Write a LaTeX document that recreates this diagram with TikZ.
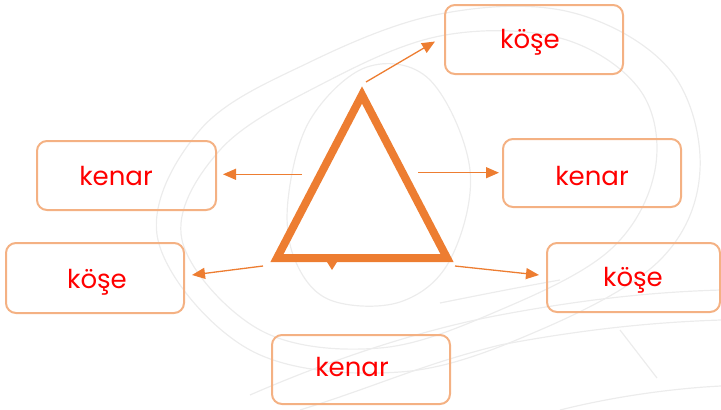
\documentclass[tikz,border=0pt]{standalone}
\usepackage{fontspec}
\setmainfont{Poppins}
\usetikzlibrary{arrows.meta}
\definecolor{org}{HTML}{ED7D31}
\definecolor{lorg}{HTML}{F4B183}
\definecolor{txt}{HTML}{FF0000}
\definecolor{bgl}{HTML}{ECECEC}
\tikzset{
  box/.style={draw=lorg, line width=2pt, rounded corners=10pt, inner sep=0pt},
  lbl/.style={text=txt, font=\fontsize{26}{30}\selectfont, anchor=base, inner sep=0pt},
  arr/.style={draw=org, line width=1.3pt, -{Triangle[length=13pt,width=11pt]}},
  tri/.style={draw=org, line width=8pt, miter limit=20},
  bg/.style={draw=bgl, line width=1.2pt}
}
\begin{document}
\begin{tikzpicture}[x=1pt,y=-1pt]
\useasboundingbox (0,0) rectangle (721,410);
% faint background curves
\draw[bg] plot[smooth cycle, tension=0.6] coordinates {(158,240) (200,130) (310,62) (440,14) (570,12) (670,70) (700,170) (660,260) (540,330) (400,372) (250,350)};
\draw[bg] plot[smooth cycle, tension=0.6] coordinates {(182,240) (220,150) (320,85) (440,36) (560,38) (640,90) (655,170) (610,250) (500,310) (380,348) (260,330)};
\draw[bg] plot[smooth cycle, tension=0.6] coordinates {(288,200) (310,120) (367,67) (430,80) (470,170) (450,260) (400,302) (330,300) (295,260)};
\draw[bg] (250,395) .. controls (330,360) and (420,330) .. (500,315) .. controls (580,300) and (650,292) .. (721,290);
\draw[bg] (300,410) .. controls (380,385) and (420,365) .. (500,345) .. controls (590,328) and (660,322) .. (721,320);
\draw[bg] (440,303) .. controls (480,295) and (520,287) .. (560,280);
\draw[bg] (560,410) .. controls (620,395) and (680,388) .. (721,386);
\draw[bg] (620,330) -- (657,378);
% boxes
\node[box, minimum width=178pt, minimum height=69pt] (bTK) at (534,39.5) {};
\node[box, minimum width=178pt, minimum height=68pt] (bRK) at (592,173) {};
\node[box, minimum width=173pt, minimum height=69pt] (bRV) at (633.5,277.5) {};
\node[box, minimum width=179pt, minimum height=69pt] (bLK) at (126.5,175.5) {};
\node[box, minimum width=178pt, minimum height=70pt] (bLV) at (95,278) {};
\node[box, minimum width=178pt, minimum height=69pt] (bBK) at (361,369.5) {};
% labels
\node[lbl] (tTK) at (530,48) {köşe};
\node[lbl] (tRK) at (592,185) {kenar};
\node[lbl] (tRV) at (633,286) {köşe};
\node[lbl] (tLK) at (116,185) {kenar};
\node[lbl] (tLV) at (97,288) {köşe};
\node[lbl] (tBK) at (352,376) {kenar};
% triangle
\coordinate (A) at (362,95);
\coordinate (B) at (277,258);
\coordinate (C) at (447,258);
\draw[tri] (A) -- (B) -- (C) -- cycle;
% arrow endpoints
\coordinate (s1) at (366,82);   \coordinate (e1) at (435,41.5);
\coordinate (s2) at (418,172.7); \coordinate (e2) at (499,172.7);
\coordinate (s3) at (455,266);  \coordinate (e3) at (539,275);
\coordinate (s4) at (302,174.3); \coordinate (e4) at (223,174.3);
\coordinate (s5) at (263,266);  \coordinate (e5) at (192,275);
\draw[arr] (s1) -- (e1);
\draw[arr] (s2) -- (e2);
\draw[arr] (s3) -- (e3);
\draw[arr] (s4) -- (e4);
\draw[arr] (s5) -- (e5);
% small tip under the base
\coordinate (m1) at (327,262);
\coordinate (m2) at (337,262);
\coordinate (m3) at (332,270);
\fill[org] (m1) -- (m2) -- (m3) -- cycle;
\end{tikzpicture}
\end{document}
